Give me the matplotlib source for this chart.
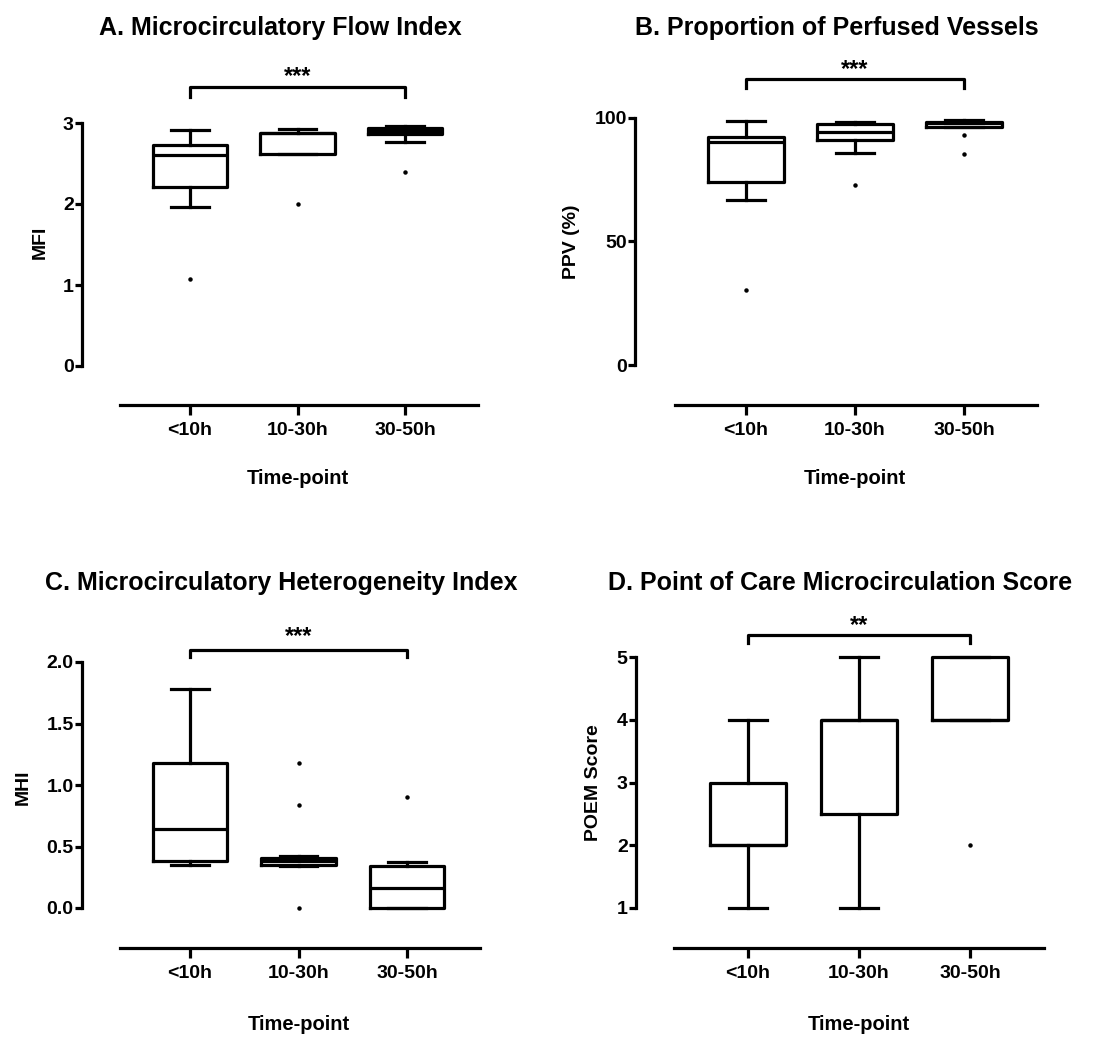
import matplotlib
matplotlib.use("Agg")
import matplotlib.pyplot as plt

W, H = 1117, 1038
DPI = 100

plt.rcParams['font.family'] = ['Liberation Sans', 'DejaVu Sans']
plt.rcParams['font.weight'] = 'bold'

groups = ["<10h", "10-30h", "30-50h"]
positions = [1, 2, 3]

# A. Microcirculatory Flow Index
mfi_whislo = [1.96, 2.62, 2.76]
mfi_q1 = [2.21, 2.62, 2.86]
mfi_med = [2.60, 2.88, 2.90]
mfi_q3 = [2.73, 2.88, 2.94]
mfi_whishi = [2.91, 2.92, 2.96]
mfi_fliers = [[1.08], [2.0], [2.40]]

# B. Proportion of Perfused Vessels
ppv_whislo = [66.8, 86.0, 96.5]
ppv_q1 = [74.2, 91.1, 96.5]
ppv_med = [90.4, 94.5, 97.8]
ppv_q3 = [92.4, 97.6, 98.5]
ppv_whishi = [98.9, 98.5, 99.0]
ppv_fliers = [[30.4], [72.9], [93.1, 85.3]]

# C. Microcirculatory Heterogeneity Index
mhi_whislo = [0.35, 0.34, 0.0]
mhi_q1 = [0.38, 0.35, 0.0]
mhi_med = [0.645, 0.38, 0.16]
mhi_q3 = [1.18, 0.41, 0.34]
mhi_whishi = [1.78, 0.42, 0.37]
mhi_fliers = [[], [1.18, 0.835, 0.0], [0.90]]

# D. Point of Care Microcirculation Score
poem_whislo = [1, 1, 4]
poem_q1 = [2, 2.5, 4]
poem_med = [2, 4, 4]
poem_q3 = [3, 4, 5]
poem_whishi = [4, 5, 5]
poem_fliers = [[], [], [2]]

# pixel layout: axes rect (left, top, right, bottom), two x refs, two y refs,
# start of the x-axis line, bracket/star heights in data units
layouts = {
    'A': dict(rect=(82, 55, 478, 405), xmap=((1, 190), (3, 405)), ymap=((0, 366), (3, 123)),
              xline=120, br=(3.32, 3.44), star=3.58, title=(280, 28), xlab=478, ylab=(40, 242)),
    'B': dict(rect=(635, 55, 1037, 405), xmap=((1, 746), (3, 964)), ymap=((0, 365), (100, 118)),
              xline=675, br=(112, 115.8), star=119.5, title=(837, 28), xlab=478, ylab=(572, 242)),
    'C': dict(rect=(82, 600, 480, 948), xmap=((1, 190), (3, 407)), ymap=((0, 908), (2, 662)),
              xline=120, br=(2.04, 2.10), star=2.21, title=(281, 583), xlab=1025, ylab=(23, 787)),
    'D': dict(rect=(636, 600, 1044, 948), xmap=((1, 748), (3, 970)), ymap=((1, 908), (5, 657)),
              xline=674, br=(5.22, 5.35), star=5.50, title=(840, 583), xlab=1025, ylab=(594, 783)),
}


def lin(p, a, b):
    return a[0] + (p - a[1]) * (b[0] - a[0]) / (b[1] - a[1])


def make_stats(whislo, q1, med, q3, whishi, fliers):
    return [dict(whislo=whislo[i], q1=q1[i], med=med[i], q3=q3[i], whishi=whishi[i],
                 fliers=fliers[i]) for i in range(len(q1))]


def draw_panel(fig, ax, lay, stats, yticks, yticklabels, ylabel, title, stars):
    left, top, right, bottom = lay['rect']
    ax.set_position([left / W, 1 - bottom / H, (right - left) / W, (bottom - top) / H])
    xa, xb = lay['xmap']
    ya, yb = lay['ymap']
    ax.set_xlim(lin(left, xa, xb), lin(right, xa, xb))
    ax.set_ylim(lin(bottom, ya, yb), lin(top, ya, yb))

    lw = 2.3
    ax.bxp(stats, positions=positions, widths=0.69, showfliers=True,
           boxprops=dict(color='k', linewidth=lw),
           whiskerprops=dict(color='k', linewidth=lw),
           capprops=dict(color='k', linewidth=lw),
           medianprops=dict(color='k', linewidth=lw),
           flierprops=dict(marker='o', markersize=2.2, markerfacecolor='k',
                           markeredgecolor='k', linestyle='none'))

    for s in ['top', 'right']:
        ax.spines[s].set_visible(False)
    for s in ['left', 'bottom']:
        ax.spines[s].set_linewidth(lw)
    ax.spines['left'].set_bounds(yticks[0], yticks[-1])
    ax.spines['bottom'].set_bounds(lin(lay['xline'], xa, xb), lin(right, xa, xb))

    ax.set_yticks(yticks)
    ax.set_yticklabels(yticklabels)
    ax.set_xticks(positions)
    ax.set_xticklabels(groups)
    ax.tick_params(axis='y', direction='out', length=5, width=lw, labelsize=14, pad=1)
    ax.tick_params(axis='x', direction='out', length=7, width=lw, labelsize=14, pad=5)

    # significance bracket between first and last time-point
    lo, hi = lay['br']
    ax.plot([1, 1, 3, 3], [lo, hi, hi, lo], color='k', linewidth=lw, clip_on=False)
    ax.text(2, lay['star'], stars, ha='center', va='center', fontsize=17, fontweight='bold')

    tx, ty = lay['title']
    fig.text(tx / W, 1 - ty / H, title, ha='center', va='center', fontsize=18,
             fontweight='bold')
    xlab_x = xa[1] + (2 - xa[0]) * (xb[1] - xa[1]) / (xb[0] - xa[0])
    ax.set_xlabel('Time-point', fontsize=14.5, fontweight='bold', va='center')
    ax.xaxis.set_label_coords(xlab_x / W, 1 - lay['xlab'] / H, transform=fig.transFigure)
    lx, ly = lay['ylab']
    ax.set_ylabel(ylabel, fontsize=14, fontweight='bold', va='center')
    ax.yaxis.set_label_coords(lx / W, 1 - ly / H, transform=fig.transFigure)


fig = plt.figure(figsize=(W / DPI, H / DPI), dpi=DPI)
fig.patch.set_facecolor('white')
axA = fig.add_axes([0, 0, 1, 1])
axB = fig.add_axes([0, 0, 1, 1])
axC = fig.add_axes([0, 0, 1, 1])
axD = fig.add_axes([0, 0, 1, 1])

draw_panel(fig, axA, layouts['A'],
           make_stats(mfi_whislo, mfi_q1, mfi_med, mfi_q3, mfi_whishi, mfi_fliers),
           [0, 1, 2, 3], ['0', '1', '2', '3'], 'MFI',
           'A. Microcirculatory Flow Index', '***')
draw_panel(fig, axB, layouts['B'],
           make_stats(ppv_whislo, ppv_q1, ppv_med, ppv_q3, ppv_whishi, ppv_fliers),
           [0, 50, 100], ['0', '50', '100'], 'PPV (%)',
           'B. Proportion of Perfused Vessels', '***')
draw_panel(fig, axC, layouts['C'],
           make_stats(mhi_whislo, mhi_q1, mhi_med, mhi_q3, mhi_whishi, mhi_fliers),
           [0, 0.5, 1.0, 1.5, 2.0], ['0.0', '0.5', '1.0', '1.5', '2.0'], 'MHI',
           'C. Microcirculatory Heterogeneity Index', '***')
draw_panel(fig, axD, layouts['D'],
           make_stats(poem_whislo, poem_q1, poem_med, poem_q3, poem_whishi, poem_fliers),
           [1, 2, 3, 4, 5], ['1', '2', '3', '4', '5'], 'POEM Score',
           'D. Point of Care Microcirculation Score', '**')

fig.savefig('out.png', dpi=DPI, facecolor='white')
